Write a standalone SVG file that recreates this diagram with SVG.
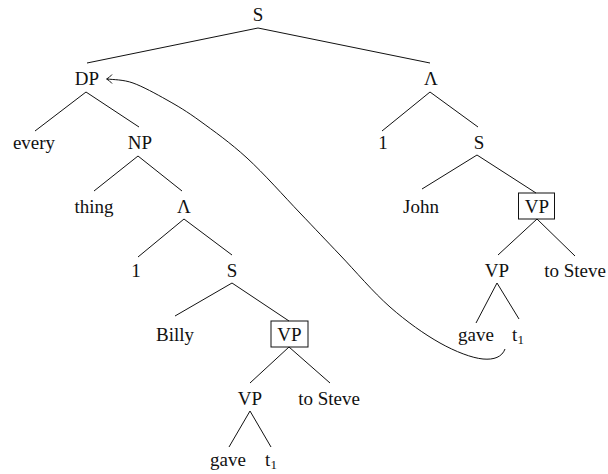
<svg xmlns="http://www.w3.org/2000/svg" width="608" height="474" viewBox="0 0 608 474">
<style>
text{font-family:"Liberation Serif","Times New Roman",serif;font-size:19px;fill:#111;text-anchor:middle}
.e line{stroke:#111;stroke-width:1}
.box{fill:none;stroke:#111;stroke-width:1}
.mv{fill:none;stroke:#111;stroke-width:1}
.sub{font-size:13px}
</style>
<rect width="608" height="474" fill="#fff"/>
<g id="connectors" class="e">
<line x1="258" y1="28" x2="87" y2="63"/>
<line x1="258" y1="28" x2="430" y2="63"/>
<line x1="86" y1="92" x2="35" y2="131"/>
<line x1="86" y1="92" x2="139" y2="127"/>
<line x1="430" y1="92" x2="382" y2="131"/>
<line x1="430" y1="92" x2="478" y2="127"/>
<line x1="138" y1="156" x2="94" y2="191"/>
<line x1="138" y1="156" x2="182" y2="191"/>
<line x1="477" y1="155" x2="422" y2="189"/>
<line x1="477" y1="155" x2="536" y2="193"/>
<line x1="184" y1="219" x2="138" y2="257"/>
<line x1="184" y1="219" x2="232" y2="255"/>
<line x1="537" y1="219" x2="498" y2="255"/>
<line x1="537" y1="219" x2="575" y2="256"/>
<line x1="232" y1="283" x2="175" y2="316"/>
<line x1="232" y1="283" x2="289" y2="321"/>
<line x1="497" y1="283" x2="476" y2="323"/>
<line x1="497" y1="283" x2="519" y2="319"/>
<line x1="289" y1="347" x2="250" y2="383"/>
<line x1="289" y1="347" x2="330" y2="383"/>
<line x1="250" y1="411" x2="229" y2="447"/>
<line x1="250" y1="411" x2="271" y2="447"/>
<path class="mv" d="M505,349 C502,357 494,360 483,359 C472,358 455.5,351.7 440,343 C424.5,334.3 406.7,321.7 390,307 C373.3,292.3 355,270.7 340,255 C325,239.3 315.5,229.2 300,213 C284.5,196.8 263.7,173.3 247,158 C230.3,142.7 213.3,130.7 200,121 C186.7,111.3 178.2,106.3 167,100 C155.8,93.7 142.7,86.5 133,83 C123.3,79.5 113,79.7 107,79"/>
<path class="mv" d="M112,74.5 Q109,78 106.5,79 Q109,80 112,83.5"/>
</g>
<g id="n-S0"><text x="258" y="21">S</text></g>
<g id="n-DP"><text x="87" y="85">DP</text></g>
<g id="n-Lam1"><text x="431" y="85">Λ</text></g>
<g id="n-every"><text x="34" y="149">every</text></g>
<g id="n-NP"><text x="140" y="149">NP</text></g>
<g id="n-one1"><text x="383" y="149">1</text></g>
<g id="n-S1"><text x="479" y="149">S</text></g>
<g id="n-thing"><text x="94" y="213">thing</text></g>
<g id="n-Lam2"><text x="184" y="213">Λ</text></g>
<g id="n-John"><text x="421" y="213">John</text></g>
<g id="n-VPbox1"><rect class="box" x="518.5" y="193" width="36" height="26"/><text x="537" y="213">VP</text></g>
<g id="n-one2"><text x="136" y="277">1</text></g>
<g id="n-S2"><text x="232" y="277">S</text></g>
<g id="n-VP1"><text x="497" y="277">VP</text></g>
<g id="n-toSteve1"><text x="575" y="277">to Steve</text></g>
<g id="n-Billy"><text x="175" y="341">Billy</text></g>
<g id="n-VPbox2"><rect class="box" x="271" y="321" width="37" height="26"/><text x="289.5" y="341">VP</text></g>
<g id="n-gave1"><text x="476" y="341">gave</text></g>
<g id="n-t1a"><text x="518" y="341">t<tspan class="sub" dy="3">1</tspan></text></g>
<g id="n-VP2"><text x="250" y="405">VP</text></g>
<g id="n-toSteve2"><text x="329" y="405">to Steve</text></g>
<g id="n-gave2"><text x="228" y="466">gave</text></g>
<g id="n-t1b"><text x="271" y="466">t<tspan class="sub" dy="3">1</tspan></text></g>
</svg>
